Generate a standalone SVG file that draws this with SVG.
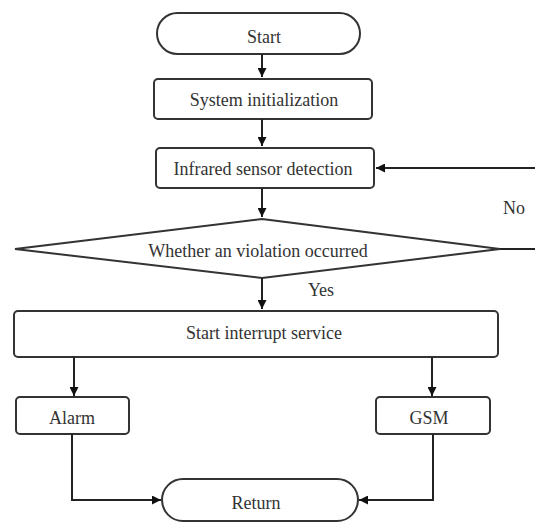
<svg xmlns="http://www.w3.org/2000/svg" width="535" height="523" viewBox="0 0 535 523">
<defs>
<marker id="ah" viewBox="0 0 10 10" refX="10" refY="5" markerWidth="9" markerHeight="9" markerUnits="userSpaceOnUse" orient="auto">
<path d="M0,0 L10,5 L0,10 z" fill="#111"/>
</marker>
<style>
.box{fill:#fff;stroke:#333;stroke-width:2}
.t{font-size:18px;fill:#333;text-anchor:middle}
.c{fill:none;stroke:#222;stroke-width:2;marker-end:url(#ah)}
.l{fill:none;stroke:#222;stroke-width:2}
</style>
</defs>
<rect width="535" height="523" fill="#fff"/>
<g font-family="Liberation Serif, Times New Roman, serif">
<g id="start"><rect class="box" x="157" y="13" width="203" height="41" rx="20.5"/><text class="t" x="264" y="43">Start</text></g>
<g id="init"><rect class="box" x="154" y="79" width="218" height="40" rx="4"/><text class="t" x="264" y="106">System initialization</text></g>
<g id="sensor"><rect class="box" x="156" y="148" width="218" height="40" rx="4"/><text class="t" x="263" y="175">Infrared sensor detection</text></g>
<g id="decision"><polygon class="box" points="262,219 500,249 262,278 15,249" stroke-width="1.8"/><text class="t" x="258" y="257">Whether an violation occurred</text></g>
<g id="interrupt"><rect class="box" x="14" y="311" width="484" height="46" rx="4"/><text class="t" x="264" y="339">Start interrupt service</text></g>
<g id="alarm"><rect class="box" x="16" y="397" width="113" height="37" rx="4"/><text class="t" x="72" y="424">Alarm</text></g>
<g id="gsm"><rect class="box" x="376" y="397" width="114" height="37" rx="4"/><text class="t" x="429" y="424">GSM</text></g>
<g id="return"><rect class="box" x="162" y="479" width="196" height="42" rx="21"/><text class="t" x="256" y="509">Return</text></g>
<g id="connectors">
<path class="c" d="M262,54 V77"/>
<path class="c" d="M262,119 V146"/>
<path class="c" d="M262,188 V217"/>
<path class="l" d="M500,249 H535"/>
<path class="c" d="M535,168 H376"/>
<path class="c" d="M262,278 V309"/>
<path class="c" d="M74,357 V396"/>
<path class="c" d="M432,357 V396"/>
<path class="c" d="M72,434 V500 H161"/>
<path class="c" d="M433,434 V500 H359"/>
<text class="t" x="514" y="214">No</text>
<text class="t" x="321" y="296">Yes</text>
</g>
</g>
</svg>
